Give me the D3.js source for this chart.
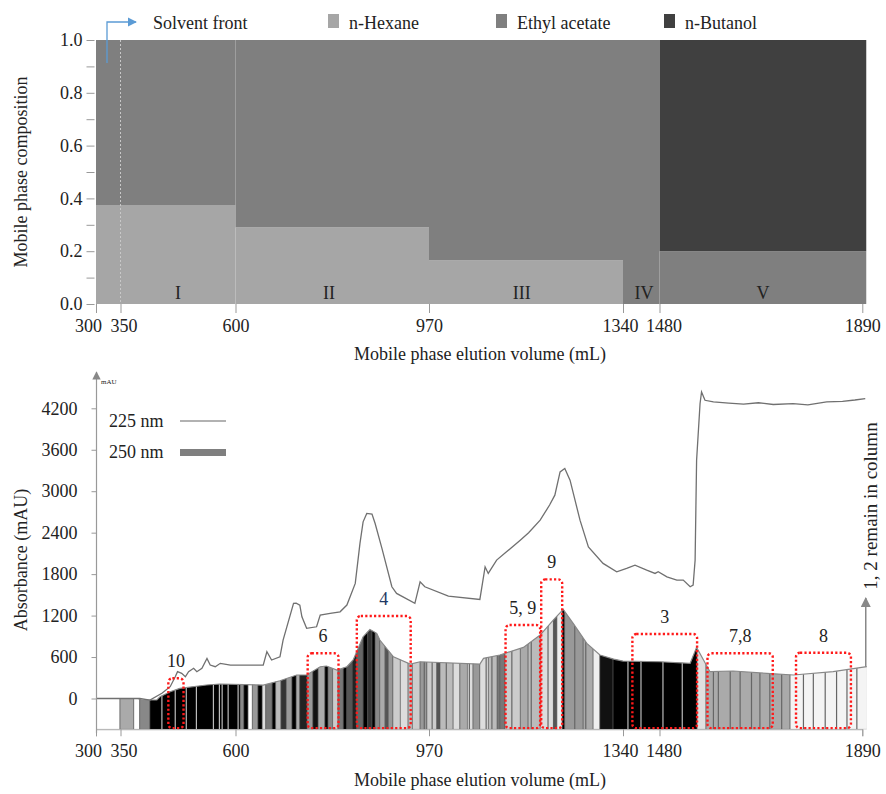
<!DOCTYPE html>
<html lang="en">
<head>
<meta charset="utf-8">
<title>Mobile phase composition and chromatogram</title>
<script src="https://cdn.jsdelivr.net/npm/d3@7"></script>
<style>
  body { margin: 0; background: #fff; }
  svg text { font-family: "Liberation Serif", "Times New Roman", serif; fill: #222; }
</style>
</head>
<body>
<script>
// ---- data ----
var volumeTicks = [300, 350, 600, 970, 1340, 1480, 1890];

// top chart: step gradient (segment boundaries in mL)
var stepVolumes = [300, 600, 970, 1340, 1480, 1898];
var hexane = [0.375, 0.29, 0.165, 0, 0];
var ethylAcetate = [0.625, 0.71, 0.835, 1, 0.2];
var butanol = [0, 0, 0, 0, 0.8];
var regionNames = ["I", "II", "III", "IV", "V"];
var regionCenters = [475, 779, 1147, 1421, 1689];
var compTicks = [0, 0.1, 0.2, 0.3, 0.4, 0.5, 0.6, 0.7, 0.8, 0.9, 1.0];

// bottom chart: absorbance traces [mL, mAU]
var uv225 = [[300,0],[392,0],[414,-22],[440,75],[458,171],[469,315],[474,388],[483,364],[491,315],[498,388],
  [509,437],[516,388],[527,437],[538,581],[545,484],[556,460],[567,509],[589,484],[628,484],[653,484],
  [660,677],[669,557],[685,604],[691,846],[711,1377],[716,1381],[723,1352],[727,1183],[736,1015],[755,1038],
  [762,1207],[781,1232],[800,1255],[813,1352],[829,1666],[838,2244],[844,2557],[851,2678],[861,2668],[867,2533],
  [880,2172],[899,1617],[908,1521],[943,1377],[953,1689],[962,1617],[1007,1482],[1067,1434],[1077,1906],[1083,1810],
  [1099,2003],[1115,2104],[1144,2292],[1160,2400],[1182,2581],[1200,2800],[1210,2943],[1220,3280],[1229,3329],[1239,3160],[1258,2581],[1274,2195],
  [1302,1955],[1328,1834],[1354,1883],[1386,1930],[1431,1858],[1463,1810],[1475,1834],[1495,1761],[1515,1713],[1528,1713],
  [1542,1617],[1548,1641],[1552,2003],[1555,3449],[1562,4269],[1565,4436],[1572,4316],[1589,4292],[1620,4275],[1650,4260],
  [1680,4280],[1710,4255],[1750,4269],[1780,4250],[1818,4292],[1850,4300],[1875,4320],[1896,4341]];
var uv250 = [[300,0],[388,0],[396,-22],[429,-22],[436,26],[458,98],[479,147],[537,195],[566,210],[653,195],
  [685,257],[717,340],[736,340],[762,460],[774,470],[794,412],[813,460],[825,557],[844,894],[857,1000],
  [870,943],[876,846],[902,604],[934,499],[953,532],[1067,499],[1074,581],[1105,629],[1150,740],[1182,918],
  [1207,1135],[1226,1290],[1245,1087],[1271,798],[1296,629],[1322,571],[1340,542],[1481,532],[1542,509],[1555,740],
  [1569,557],[1582,388],[1629,398],[1697,364],[1751,340],[1831,388],[1899,460]];

// collected fractions: [start mL, end mL, shade]
var fractionBands = [
  [300,349,"#ffffff"],[349,379,"#aaaaaa"],[379,392,"#ffffff"],[392,414,"#888888"],[414,609,"#000000"],
  [609,616,"#888888"],[616,624,"#000000"],[624,632,"#ffffff"],[632,643,"#999999"],[643,651,"#000000"],
  [651,658,"#dddddd"],[658,670,"#777777"],[670,677,"#000000"],[677,687,"#bbbbbb"],[687,697,"#333333"],
  [697,708,"#999999"],[708,716,"#000000"],[716,723,"#aaaaaa"],[723,737,"#222222"],[737,748,"#999999"],
  [748,758,"#111111"],[758,771,"#aaaaaa"],[771,777,"#000000"],[777,786,"#888888"],[786,796,"#cccccc"],
  [796,806,"#777777"],[806,813,"#000000"],[813,823,"#555555"],[823,832,"#222222"],[832,844,"#666666"],
  [844,853,"#000000"],[853,861,"#333333"],[861,867,"#000000"],[867,876,"#888888"],[876,886,"#aaaaaa"],
  [886,892,"#555555"],[892,901,"#999999"],[901,915,"#cccccc"],[915,930,"#dddddd"],[930,938,"#bbbbbb"],
  [938,953,"#cccccc"],[953,966,"#999999"],[966,985,"#cccccc"],[985,991,"#555555"],[991,1016,"#bbbbbb"],
  [1016,1029,"#dddddd"],[1029,1043,"#aaaaaa"],[1043,1054,"#dddddd"],[1054,1067,"#999999"],[1067,1083,"#dddddd"],
  [1083,1100,"#bbbbbb"],[1100,1115,"#777777"],[1115,1144,"#cccccc"],[1144,1159,"#aaaaaa"],[1159,1182,"#bbbbbb"],
  [1182,1207,"#dddddd"],[1207,1214,"#555555"],[1214,1224,"#eeeeee"],[1224,1229,"#000000"],[1229,1264,"#999999"],
  [1264,1283,"#aaaaaa"],[1283,1296,"#eeeeee"],[1296,1321,"#111111"],[1321,1556,"#000000"],[1556,1574,"#e0e0e0"],
  [1574,1744,"#aaaaaa"],[1744,1900,"#f4f4f4"]];
var lightCuts = [440, 469, 493, 515, 552, 565, 571, 584, 605, 1359, 1409, 1487, 1526];
var darkCuts = [961, 976, 1003, 1047, 1079, 1090, 1105, 1128, 1165, 1197, 1248, 1269,
  1589, 1599, 1623, 1643, 1666, 1683, 1703, 1727, 1771, 1791, 1815, 1838, 1859, 1879];

// red dotted fraction boxes
var boxLabels = ["10", "6", "4", "5, 9", "9", "3", "7,8", "8"];
var boxStart = [454, 738, 832, 1116, 1184, 1376, 1577, 1756];
var boxEnd = [487, 797, 935, 1182, 1224, 1556, 1709, 1867];
var boxTop = [292, 654, 1193, 1063, 1724, 933, 654, 662];
var boxBottom = -430;
var absTicks = [0, 600, 1200, 1800, 2400, 3000, 3600, 4200];
var absBase = -445;

// ---- layout ----
var w = 886, h = 794;
var xRange = [96, 120.5, 235.5, 429, 623, 659.5, 862.3];
var tickNudge = {300: -8, 350: 3, 1340: -3, 1480: 4};

var svg = d3.select("body").append("svg")
  .attr("width", w).attr("height", h);

var defs = svg.append("defs");
function arrowMarker(id, color) {
  defs.append("marker").attr("id", id)
    .attr("viewBox", "0 0 10 10").attr("refX", 9).attr("refY", 5)
    .attr("markerWidth", 7).attr("markerHeight", 7).attr("orient", "auto")
    .append("path").attr("d", "M0,0 L10,5 L0,10 z").attr("fill", color);
}
arrowMarker("arrowBlue", "#5b9bd5");
arrowMarker("arrowGray", "#888");

var x = d3.scaleLinear().domain(volumeTicks).range(xRange);

function styleAxis(a) {
  a.selectAll("line").attr("stroke", "#999");
  a.selectAll("text").attr("font-size", 18).attr("font-family", "Liberation Serif, serif").attr("fill", "#222");
}
function nudgeX(a) {
  a.selectAll(".tick text").attr("dx", function(d) { return tickNudge[d] || 0; });
}

// ===== top chart =====
var yc = d3.scaleLinear().domain([0, 1]).range([304, 40]);
var rows = stepVolumes.slice(0, -1).map(function(v, i) {
  return {v0: v, v1: stepVolumes[i + 1], hex: hexane[i], eth: ethylAcetate[i], but: butanol[i]};
});
var series = d3.stack().keys(["hex", "eth", "but"])(rows);
var solventColor = {hex: "#a6a6a6", eth: "#7f7f7f", but: "#404040"};

svg.append("g").selectAll("g")
  .data(series).enter().append("g")
  .attr("fill", function(s) { return solventColor[s.key]; })
  .selectAll("rect").data(function(s) { return s; }).enter().append("rect")
  .attr("x", function(d) { return x(d.data.v0); })
  .attr("width", function(d) { return x(d.data.v1) - x(d.data.v0); })
  .attr("y", function(d) { return yc(d[1]); })
  .attr("height", function(d) { return yc(d[0]) - yc(d[1]); });

// solvent front
svg.append("line")
  .attr("x1", x(350)).attr("x2", x(350)).attr("y1", yc(1)).attr("y2", yc(0))
  .attr("stroke", "#c8c8c8").attr("stroke-dasharray", "2,2");
svg.append("path")
  .attr("d", "M107,63 V22 H136")
  .attr("fill", "none").attr("stroke", "#5b9bd5").attr("stroke-width", 1.3)
  .attr("marker-end", "url(#arrowBlue)");

svg.selectAll(".region").data(regionNames).enter().append("text")
  .attr("x", function(d, i) { return x(regionCenters[i]); })
  .attr("y", 299).attr("text-anchor", "middle").attr("font-size", 18)
  .text(function(d) { return d; });

var axTop = svg.append("g").attr("transform", "translate(0," + yc(0) + ")")
  .call(d3.axisBottom(x).tickValues(volumeTicks).tickSize(9).tickPadding(6).tickFormat(d3.format("d")));
axTop.select(".domain").remove();
var axTopY = svg.append("g").attr("transform", "translate(94.5,0)")
  .call(d3.axisLeft(yc).tickValues(compTicks).tickSize(8).tickPadding(4)
    .tickFormat(function(d) { return Math.round(d * 10) % 2 === 0 ? d.toFixed(1) : ""; }));
axTopY.select(".domain").remove();
styleAxis(axTop); styleAxis(axTopY); nudgeX(axTop);

// legend
svg.append("text").attr("x", 153).attr("y", 29).attr("font-size", 18).text("Solvent front");
var legItems = [["hex", "n-Hexane", 328], ["eth", "Ethyl acetate", 496], ["but", "n-Butanol", 664]];
legItems.forEach(function(d) {
  svg.append("rect").attr("x", d[2]).attr("y", 14).attr("width", 11).attr("height", 14)
    .attr("fill", solventColor[d[0]]);
  svg.append("text").attr("x", d[2] + 21).attr("y", 29).attr("font-size", 18).text(d[1]);
});

svg.append("text").attr("x", 480).attr("y", 360).attr("text-anchor", "middle")
  .attr("font-size", 18).text("Mobile phase elution volume (mL)");
svg.append("text").attr("transform", "translate(27,172) rotate(-90)")
  .attr("text-anchor", "middle").attr("font-size", 18).text("Mobile phase composition");

// ===== bottom chart =====
var ya = d3.scaleLinear().domain([0, 4200]).range([698.5, 408.3]);

var area250 = d3.area()
  .x(function(d) { return x(d[0]); })
  .y0(ya(absBase))
  .y1(function(d) { return ya(d[1]); });
defs.append("clipPath").attr("id", "clip250")
  .append("path").attr("d", area250(uv250));

var stripes = svg.append("g").attr("clip-path", "url(#clip250)");
stripes.selectAll("rect").data(fractionBands).enter().append("rect")
  .attr("x", function(d) { return x(d[0]); })
  .attr("width", function(d) { return x(d[1]) - x(d[0]); })
  .attr("y", 380).attr("height", ya(absBase) - 380)
  .attr("fill", function(d) { return d[2]; })
  .attr("stroke", "#555").attr("stroke-width", 0.6);
stripes.selectAll(".lc").data(lightCuts).enter().append("line")
  .attr("x1", function(d) { return x(d); }).attr("x2", function(d) { return x(d); })
  .attr("y1", 380).attr("y2", ya(absBase))
  .attr("stroke", "#bbb").attr("stroke-width", 1.2);
stripes.selectAll(".dc").data(darkCuts).enter().append("line")
  .attr("x1", function(d) { return x(d); }).attr("x2", function(d) { return x(d); })
  .attr("y1", 380).attr("y2", ya(absBase))
  .attr("stroke", "#666").attr("stroke-width", 1.2);

var line = d3.line()
  .x(function(d) { return x(d[0]); })
  .y(function(d) { return ya(d[1]); });
svg.append("path").attr("d", line(uv250))
  .attr("fill", "none").attr("stroke", "#888").attr("stroke-width", 1.2);
svg.append("path").attr("d", line(uv225))
  .attr("fill", "none").attr("stroke", "#707070").attr("stroke-width", 1.3);

// fraction boxes
var boxes = svg.append("g");
boxLabels.forEach(function(lab, i) {
  var x0 = x(boxStart[i]), x1 = x(boxEnd[i]), y0 = ya(boxTop[i]), y1 = ya(boxBottom);
  boxes.append("rect").attr("x", x0).attr("y", y0)
    .attr("width", x1 - x0).attr("height", y1 - y0).attr("rx", 4)
    .attr("fill", "none").attr("stroke", "#ff1a1a").attr("stroke-width", 2.4)
    .attr("stroke-dasharray", "2.2,2.2");
  boxes.append("text").attr("x", (x0 + x1) / 2).attr("y", y0 - 11)
    .attr("text-anchor", "middle").attr("font-size", 18)
    .style("fill", lab === "4" ? "#1f3864" : "#222").text(lab);
});

// axes
var axBot = svg.append("g").attr("transform", "translate(0," + ya(absBase) + ")")
  .call(d3.axisBottom(x).tickValues(volumeTicks).tickSize(7).tickPadding(8).tickFormat(d3.format("d")));
axBot.select(".domain").attr("stroke", "#aaa");
var axBotY = svg.append("g").attr("transform", "translate(96.5,0)")
  .call(d3.axisLeft(ya).tickValues(absTicks).tickSize(5).tickPadding(14).tickFormat(d3.format("d")));
axBotY.select(".domain").remove();
styleAxis(axBot); styleAxis(axBotY); nudgeX(axBot);
svg.append("line").attr("x1", 96.5).attr("x2", 96.5)
  .attr("y1", ya(absBase) + 4).attr("y2", 372)
  .attr("stroke", "#999").attr("stroke-width", 1.2).attr("marker-end", "url(#arrowGray)");
svg.append("text").attr("x", 101).attr("y", 384).attr("font-size", 7)
  .attr("font-family", "DejaVu Sans, sans-serif").text("mAU");

// legend bottom
svg.append("text").attr("x", 109).attr("y", 427).attr("font-size", 18).text("225 nm");
svg.append("line").attr("x1", 180).attr("x2", 226).attr("y1", 421).attr("y2", 421)
  .attr("stroke", "#999").attr("stroke-width", 1.5);
svg.append("text").attr("x", 109).attr("y", 458).attr("font-size", 18).text("250 nm");
svg.append("rect").attr("x", 180).attr("y", 449).attr("width", 46).attr("height", 7).attr("fill", "#7f7f7f");

// remain in column
var endVol = uv250[uv250.length - 1][0];
svg.append("line").attr("x1", x(endVol) - 1).attr("x2", x(endVol) - 1)
  .attr("y1", ya(uv250[uv250.length - 1][1])).attr("y2", 598)
  .attr("stroke", "#888").attr("stroke-width", 1.5).attr("marker-end", "url(#arrowGray)");
svg.append("text").attr("transform", "translate(877,506) rotate(-90)")
  .attr("text-anchor", "middle").attr("font-size", 19).text("1, 2 remain in column");

svg.append("text").attr("x", 480).attr("y", 786).attr("text-anchor", "middle")
  .attr("font-size", 18).text("Mobile phase elution volume (mL)");
svg.append("text").attr("transform", "translate(27,560) rotate(-90)")
  .attr("text-anchor", "middle").attr("font-size", 18).text("Absorbance (mAU)");
</script>
</body>
</html>
